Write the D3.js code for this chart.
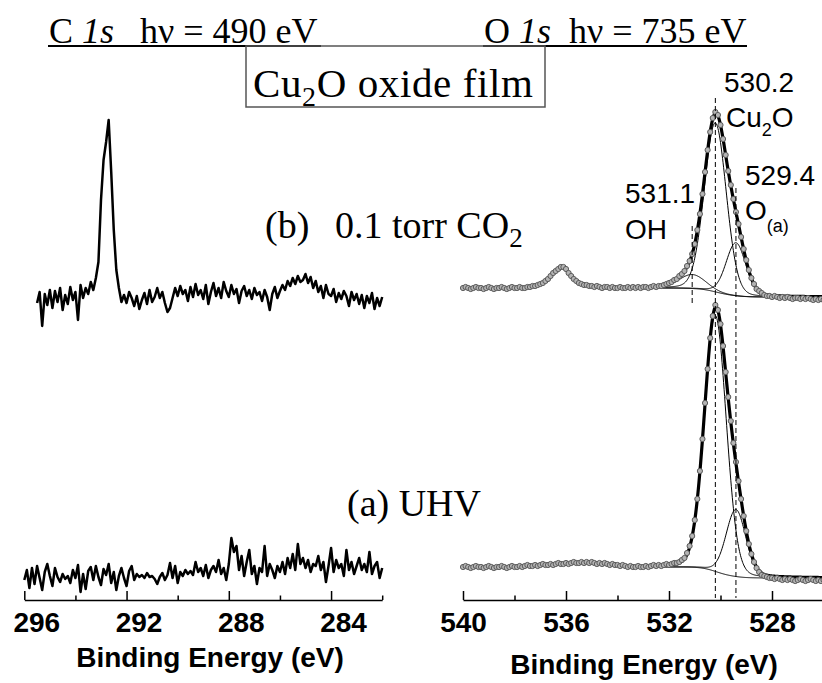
<!DOCTYPE html>
<html>
<head>
<meta charset="utf-8">
<script src="https://d3js.org/d3.v7.min.js"></script>
<style>
body { margin: 0; background: #fff; }
svg { display: block; }
</style>
</head>
<body>
<div id="chart"></div>
<script>
// C 1s spectra, 0.1 eV steps, intensities above each trace's own baseline
var c1sStartA = 296.0, c1sStartB = 295.5, stepE = 0.1;
var c1sA = [
    0, 10, -8, 12, -4, 14, 2, -10, 8, 16,
    4, -6, 12, 3, -2, 6, 1, 4, -3, 10,
    2, 15, -12, 6, -9, 9, 13, 0, 14, 3,
    -5, 11, 5, 16, -3, 8, -10, 4, 12, 2,
    -6, 9, 14, 0, 6, 3, 5, 2, 7, 3,
    4, 1, -4, 3, 7, 0, 5, 17, 2, 14,
    -3, 8, 4, 10, 6, 9, 5, 18, 8, 12,
    4, 15, 2, 10, 14, 8, 20, 6, 12, 0,
    16, 42, 28, 34, 10, 24, 4, 18, 30, 6,
    14, -4, 12, 8, 34, 4, 16, 10, 2, 14,
    8, 18, 6, 22, 12, 26, 10, 36, 16, 22,
    12, 20, 8, 16, 14, 24, 10, 18, -2, 14,
    32, 8, 20, 12, 16, 4, 30, 10, 18, 6,
    14, 22, 10, 16, 8, 28, 6, 14, 18, 2,
    12];
var c1sB = [
    -3, 8, -26, 6, -5, 10, -8, 9, -2, 12,
    -10, 5, -4, 13, 0, 8, -20, 15, 2, 12,
    6, 18, 10, 22, 38, 100, 140, 158, 180, 128,
    70, 30, 12, -2, 5, -3, 8, 2, -6, 4,
    -9, 0, 7, -4, 10, -2, 3, 12, 2, 8,
    -3, -12, -8, 2, 12, 4, 14, 6, 10, -1,
    13, 3, 16, 5, 10, 1, 15, -4, 8, 17,
    4, 12, 2, 18, 9, 3, 15, 6, 11, -3,
    9, 14, 4, 10, 1, 12, 5, 8, -1, 10,
    3, -10, 6, 13, 2, 9, 15, 10, 19, 14,
    22, 16, 24, 18, 20, 26, 17, 23, 12, 19,
    8, 14, 2, 15, 6, 4, 11, -2, 7, 1,
    9, 4, -6, 8, 0, 6, -4, 5, -8, 4,
    -3, 7, -9, 2, -6, 3];

// O 1s spectra, 540 -> 526 eV in 0.1 eV steps
var o1sStart = 540.0;
var o1sA = [
    33, 34, 33, 32, 33, 34, 33, 33, 32, 33,
    34, 33, 32, 33, 33, 34, 33, 32, 33, 34,
    33, 33, 34, 33, 34, 35, 34, 34, 35, 34,
    35, 36, 35, 35, 36, 35, 36, 37, 36, 36,
    37, 36, 37, 38, 37, 37, 38, 37, 38, 37,
    38, 37, 36, 37, 36, 37, 36, 35, 36, 35,
    35, 34, 35, 34, 33, 34, 33, 33, 34, 33,
    33, 34, 33, 34, 35, 34, 35, 34, 35, 36,
    35, 36, 37, 37, 38, 40, 42, 47, 54, 64,
    80, 101, 129, 161, 197, 231, 262, 284, 295, 290,
    276, 254, 228, 203, 179, 157, 138, 119, 101, 84,
    69, 56, 46, 38, 32, 28, 25, 24, 23, 22,
    22, 21, 22, 21, 20, 21, 20, 21, 20, 19,
    20, 21, 20, 19, 20, 21, 20, 19, 20, 19,
    20];
var o1sB = [
    12, 13, 12, 11, 12, 13, 12, 12, 11, 12,
    13, 12, 11, 12, 12, 13, 12, 11, 12, 13,
    12, 12, 13, 12, 12, 13, 13, 14, 14, 15,
    16, 17, 19, 21, 24, 27, 29, 31, 33, 33,
    31, 27, 24, 21, 19, 17, 16, 15, 15, 14,
    14, 13, 14, 13, 12, 13, 13, 12, 13, 12,
    12, 13, 12, 12, 13, 12, 13, 12, 13, 12,
    13, 13, 12, 13, 14, 13, 14, 14, 15, 16,
    17, 18, 20, 21, 24, 26, 29, 34, 39, 46,
    56, 70, 86, 106, 128, 150, 168, 182, 188, 185,
    175, 161, 145, 129, 115, 101, 88, 76, 63, 51,
    40, 30, 22, 16, 11, 9, 7, 5, 4, 4,
    3, 4, 3, 2, 3, 2, 3, 2, 1, 2,
    2, 1, 2, 1, 2, 1, 0, 1, 0, 1,
    0];

// fitted components: Cu2O, O(a), OH
var peakNames = ["Cu2O", "O(a)", "OH"];
var peakCenters = [530.2, 529.4, 531.1];
var heightsA = [256, 67, 0];
var heightsB = [169, 53, 14];
var fwhmA = [1.0, 0.9, 1.2];
var fwhmB = [1.0, 0.9, 1.2];
var bgA = [33, 22];   // high BE side, low BE side
var bgB = [12, 3];
var fitStartA = 532.6, fitStartB = 533.6, fitEnd = 526.0;
var glMix = 0.1;

var majorC = [296, 292, 288, 284];
var minorC = [294, 290, 286, 282];
var majorO = [540, 536, 532, 528];
var minorO = [538, 534, 530];

var w = 822, h = 683;
var serif = "'Liberation Serif', 'Times New Roman', serif";
var sans = "'Liberation Sans', Arial, sans-serif";

var svg = d3.select("#chart").append("svg").attr("width", w).attr("height", h);

var xC = d3.scaleLinear().domain([296, 282]).range([24.3, 382.2]);
var xO = d3.scaleLinear().domain([540, 526]).range([463, 823.5]);
var y = d3.scaleLinear().domain([0, 500]).range([600, 100]);

var offC = [20, 300], offO = [0, 300];

// ---- C 1s traces
function drawTrace(vals, start, off) {
    var pts = vals.map(function (v, i) { return [start - i * stepE, v]; });
    svg.append("path").datum(pts)
        .attr("fill", "none").attr("stroke", "black").attr("stroke-width", 2.5)
        .attr("stroke-linejoin", "round")
        .attr("d", d3.line().x(function (d) { return xC(d[0]); }).y(function (d) { return y(d[1] + off); }));
}
drawTrace(c1sA, c1sStartA, offC[0]);
drawTrace(c1sB, c1sStartB, offC[1]);

// ---- O 1s fits
function pv(e, c, hgt, fw) {
    var t = (e - c) / fw;
    return hgt * ((1 - glMix) * Math.exp(-4 * Math.LN2 * t * t) + glMix / (1 + 4 * t * t));
}

function drawFit(start, heights, widths, bgLevels, off) {
    var grid = d3.range(start, fitEnd - 0.01, -0.02);
    var comps = [];
    heights.forEach(function (hh, k) {
        if (hh > 0) comps.push(grid.map(function (e) { return pv(e, peakCenters[k], hh, widths[k]); }));
    });
    var sum = grid.map(function (e, i) { return d3.sum(comps, function (c) { return c[i]; }); });
    var cum = [], acc = 0;
    for (var i = grid.length - 1; i >= 0; i--) { acc += sum[i]; cum[i] = acc; }
    var bg = grid.map(function (e, i) { return bgLevels[1] + (bgLevels[0] - bgLevels[1]) * cum[i] / acc; });

    var line = d3.line().x(function (d) { return xO(d[0]); }).y(function (d) { return y(d[1] + off); });
    var thin = svg.append("g").attr("fill", "none").attr("stroke", "black").attr("stroke-width", 1);
    thin.append("path").attr("d", line(grid.map(function (e, i) { return [e, bg[i]]; })));
    comps.forEach(function (c) {
        thin.append("path").attr("d", line(grid.map(function (e, i) { return [e, bg[i] + c[i]]; })));
    });
    svg.append("path").attr("fill", "none").attr("stroke", "black").attr("stroke-width", 3.2)
        .attr("stroke-linejoin", "round")
        .attr("d", line(grid.map(function (e, i) { return [e, bg[i] + sum[i]]; })));
}

function drawPoints(vals, off) {
    svg.append("g").selectAll("circle").data(vals).join("circle")
        .attr("cx", function (v, i) { return xO(o1sStart - i * stepE); })
        .attr("cy", function (v) { return y(v + off); })
        .attr("r", 2.6)
        .attr("fill", "#b4b4b4").attr("stroke", "#5a5a5a").attr("stroke-width", 1);
}

drawFit(fitStartA, heightsA, fwhmA, bgA, offO[0]);
drawFit(fitStartB, heightsB, fwhmB, bgB, offO[1]);
drawPoints(o1sA, offO[0]);
drawPoints(o1sB, offO[1]);

// ---- dashed peak markers
var dashTop = [98, 188, 226], dashBottom = [598, 598, 304];
peakCenters.forEach(function (c, k) {
    svg.append("line").attr("x1", xO(c)).attr("x2", xO(c))
        .attr("y1", dashTop[k]).attr("y2", dashBottom[k])
        .attr("stroke", "black").attr("stroke-width", 1).attr("stroke-dasharray", "5,3");
});

// ---- axes
function drawAxis(scale, major, minor, labelShift) {
    var g = svg.append("g").attr("transform", "translate(0,600)");
    g.call(d3.axisBottom(scale).tickValues(major).tickSize(-9).tickSizeOuter(0).tickPadding(12).tickFormat(d3.format("d")));
    g.attr("font-family", sans).attr("font-size", 28).attr("font-weight", "bold");
    g.select(".domain").attr("stroke-width", 1.5);
    g.selectAll(".tick line").attr("stroke-width", 1.5);
    g.selectAll(".tick text").attr("x", labelShift);
    var g2 = svg.append("g").attr("transform", "translate(0,600)");
    g2.call(d3.axisBottom(scale).tickValues(minor).tickSize(-4.5).tickSizeOuter(0).tickFormat(""));
    g2.select(".domain").remove();
    g2.selectAll(".tick line").attr("stroke-width", 1.5);
}
drawAxis(xC, majorC, minorC, 12);
drawAxis(xO, majorO, minorO, 0);

svg.append("text").attr("x", 210).attr("y", 667).attr("text-anchor", "middle")
    .attr("font-family", sans).attr("font-size", 28).attr("font-weight", "bold")
    .text("Binding Energy (eV)");
svg.append("text").attr("x", 644).attr("y", 674).attr("text-anchor", "middle")
    .attr("font-family", sans).attr("font-size", 28).attr("font-weight", "bold")
    .text("Binding Energy (eV)");

// ---- headings
function heading(x0, el, hvText, x1, lineEnd) {
    var t = svg.append("text").attr("x", x0).attr("y", 43).attr("font-family", serif).attr("font-size", 36);
    t.append("tspan").text(el + " ");
    t.append("tspan").attr("font-style", "italic").text("1s");
    svg.append("text").attr("x", x1).attr("y", 43).attr("font-family", serif).attr("font-size", 36).text(hvText);
    svg.append("line").attr("x1", x0 - 1).attr("x2", lineEnd).attr("y1", 46).attr("y2", 46)
        .attr("stroke", "black").attr("stroke-width", 2);
}
heading(49, "C", "h\u03bd = 490 eV", 140, 321);
heading(484, "O", "h\u03bd = 735 eV", 569, 747);

svg.append("rect").attr("x", 246).attr("y", 46).attr("width", 299).attr("height", 61)
    .attr("fill", "none").attr("stroke", "#555").attr("stroke-width", 1.5);
var bt = svg.append("text").attr("x", 253).attr("y", 97).attr("font-family", serif).attr("font-size", 41)
    .attr("letter-spacing", 0.6);
bt.append("tspan").text("Cu");
bt.append("tspan").attr("font-size", 28).attr("dy", 9).text("2");
bt.append("tspan").attr("dy", -9).text("O oxide film");

svg.append("text").attr("x", 265).attr("y", 238).attr("font-family", serif).attr("font-size", 38).text("(b)");
var bc = svg.append("text").attr("x", 335).attr("y", 238).attr("font-family", serif).attr("font-size", 38);
bc.append("tspan").text("0.1 torr CO");
bc.append("tspan").attr("font-size", 27).attr("dy", 9).text("2");

svg.append("text").attr("x", 347).attr("y", 516).attr("font-family", serif).attr("font-size", 38).text("(a) UHV");

// ---- peak labels
function label(x, yy, txt) {
    return svg.append("text").attr("x", x).attr("y", yy).attr("font-family", sans).attr("font-size", 28).text(txt);
}
label(724, 92, "530.2");
var cu = label(726, 127, "Cu");
cu.append("tspan").attr("font-size", 18).attr("dy", 9).text("2");
cu.append("tspan").attr("dy", -9).text("O");
label(745, 185, "529.4");
var oa = label(745, 220, "O");
oa.append("tspan").attr("font-size", 18).attr("dy", 12).text("(a)");
label(625, 203, "531.1");
label(625, 239, "OH");
</script>
</body>
</html>
